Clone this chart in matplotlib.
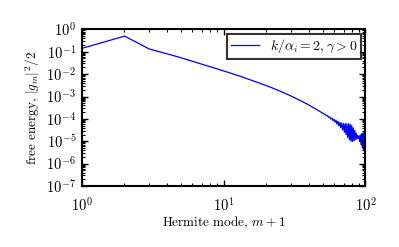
import matplotlib

matplotlib.use("Agg")

import matplotlib.pyplot as plt
import numpy as np
from matplotlib.ticker import LogLocator

plt.rcParams.update(
    {
        "font.family": "serif",
        "font.serif": ["cmr10", "DejaVu Serif"],
        "mathtext.fontset": "cm",
        "axes.unicode_minus": False,
        "axes.formatter.use_mathtext": True,
        "font.size": 9.5,
    }
)

# Hermite mode index m + 1 and log10 of free energy |g_m|^2 / 2
hermite_mode = list(range(1, 101))
log_energy = [
    -0.85, -0.30, -0.88, -1.093, -1.268, -1.422, -1.553, -1.666, -1.765, -1.857,
    -1.941, -2.018, -2.089, -2.161, -2.229, -2.293, -2.352, -2.409, -2.465, -2.517,
    -2.566, -2.615, -2.667, -2.714, -2.762, -2.809, -2.854, -2.899, -2.943, -2.987,
    -3.029, -3.072, -3.115, -3.153, -3.194, -3.233, -3.272, -3.312, -3.343, -3.384,
    -3.425, -3.463, -3.500, -3.537, -3.575, -3.612, -3.646, -3.679, -3.713, -3.747,
    -3.782, -3.803, -3.858, -3.854, -3.932, -3.911, -4.009, -3.963, -4.081, -4.016,
    -4.150, -4.064, -4.230, -4.112, -4.313, -4.156, -4.399, -4.188, -4.496, -4.205,
    -4.600, -4.215, -4.715, -4.216, -4.831, -4.226, -4.930, -4.238, -5.005, -4.297,
    -5.006, -4.399, -4.976, -4.514, -4.926, -4.639, -4.881, -4.744, -4.860, -4.770,
    -5.005, -4.721, -5.152, -4.668, -5.294, -4.634, -5.419, -4.615, -5.504, -6.050,
]
free_energy = 10.0 ** np.array(log_energy)
series_label = r"$k/\alpha_i = 2, \gamma > 0$"

fig = plt.figure(figsize=(3.99, 2.47), dpi=100)
ax = fig.add_axes([0.205, 0.247, 0.711, 0.634])

ax.loglog(hermite_mode, free_energy, color="#0000ff", linewidth=0.9, label=series_label)

ax.set_xlim(1, 100)
ax.set_ylim(1e-7, 1)
ax.yaxis.set_major_locator(LogLocator(base=10, numticks=10))
ax.yaxis.set_minor_locator(LogLocator(base=10, subs=np.arange(2, 10), numticks=20))

ax.tick_params(which="both", direction="in", top=True, right=True, labelsize=10.5)
ax.tick_params(which="major", length=4, width=1.0)
ax.tick_params(axis="x", which="major", pad=8)
ax.tick_params(axis="y", which="major", pad=4)
ax.tick_params(which="minor", length=2, width=0.8)
for spine in ax.spines.values():
    spine.set_linewidth(1.5)

ax.set_xlabel(r"Hermite mode, $m + 1$", labelpad=0)
ax.set_ylabel(r"free energy, $|g_m|^2/2$", labelpad=3)

leg = ax.legend(loc="upper right", fancybox=False, handlelength=2.0,
                borderpad=0.3, borderaxespad=0.3, fontsize=10)
leg.get_frame().set_edgecolor("black")
leg.get_frame().set_linewidth(1.5)

fig.savefig("out.png", dpi=100)
plt.close(fig)
